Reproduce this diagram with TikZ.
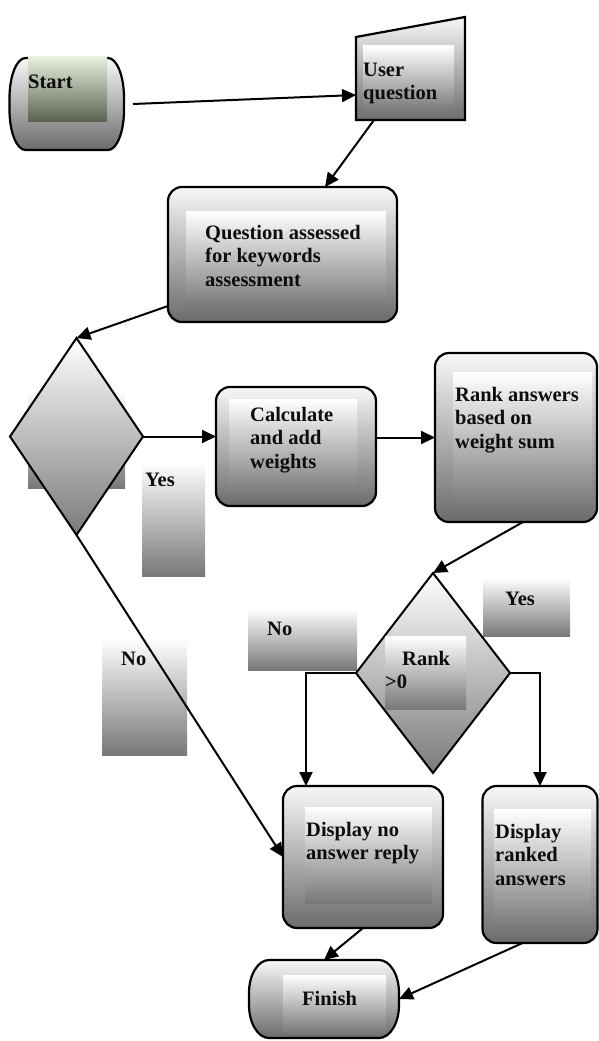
\documentclass[tikz,border=0pt]{standalone}
\usepackage{fontspec}
\setmainfont{Liberation Serif}
\usetikzlibrary{arrows.meta,calc,shapes.geometric}
\definecolor{otop}{gray}{0.97}
\definecolor{obot}{gray}{0.42}
\definecolor{itop}{gray}{1.0}
\definecolor{ibot}{gray}{0.47}
\definecolor{gtop}{RGB}{230,239,220}
\definecolor{gbot}{RGB}{92,99,83}
\begin{document}
\begin{tikzpicture}[x=1pt,y=-1pt,
  box/.style={draw, line width=2.2pt, rounded corners=14pt, top color=otop, bottom color=obot, inner sep=0, outer sep=0},
  shp/.style={draw, line width=2.2pt, top color=otop, bottom color=obot},
  frame/.style={inner sep=0, outer sep=0},
  dia/.style={diamond, draw, line width=2pt, top color=white, bottom color=black!52, inner sep=0, outer sep=0},
  fillrect/.style={top color=itop, bottom color=ibot},
  txt/.style={anchor=north west, inner sep=0, align=left, text=black!95, font=\bfseries\fontsize{20.5}{23.5}\selectfont},
  arr/.style={-{Triangle[length=14pt,width=13pt]}, line width=2pt}]
\useasboundingbox (0,0) rectangle (599,1041);

% Start
\node[frame, minimum width=114.5pt, minimum height=92pt] (start) at (66.75,104) {};
\path[shp] ($(start.north east)+(-16,0)$) arc[start angle=-90,end angle=0,x radius=16,y radius=40]
  -- ($(start.south east)+(0,-40)$) arc[start angle=0,end angle=90,x radius=16,y radius=40]
  -- ($(start.south west)+(16,0)$) arc[start angle=90,end angle=180,x radius=16,y radius=40]
  -- ($(start.north west)+(0,40)$) arc[start angle=180,end angle=270,x radius=16,y radius=40] -- cycle;
\path[top color=gtop, bottom color=gbot] (28,57) rectangle (107,121);
\node[txt] (tstart) at (28,74) {\rule{0pt}{14pt}Start};

% User question
\node[frame, minimum width=109pt, minimum height=103pt] (user) at (410.5,68.5) {};
\path[shp] (user.south west) -- ($(user.north west)+(0,20)$) -- (user.north east) -- (user.south east) -- cycle;
\path[fillrect] (363,46) rectangle (454,111);
\node[txt] (tuser) at (363,62) {\rule{0pt}{14pt}User\\question};
\draw[arr] ([xshift=9pt]start.east) -- ($(user.south west)+(0,-25)$);

% Question assessed
\node[box, minimum width=229pt, minimum height=135pt] (q) at (282.5,254.5) {};
\path[fillrect] (186,211) rectangle (386,308);
\node[txt] (tq) at (205,225) {\rule{0pt}{14pt}Question assessed\\for keywords\\assessment};
\draw[arr] ($(user.south west)+(18,0)$) -- ($(q.north)+(42.5,0)$);

% Decision 1
\path[fillrect] (28,390) rectangle (125,488);
\node[dia, minimum width=133pt, minimum height=197pt] (d1) at (76.5,436.5) {};
\draw[arr] ($(q.south west)+(0,-16)$) -- (d1.north);
\path[fillrect] (142,462) rectangle (205,576);
\node[txt] (tyes1) at (145,472) {\rule{0pt}{14pt}Yes};

% Calculate
\node[box, minimum width=160pt, minimum height=119pt] (calc) at (296,446.5) {};
\path[fillrect] (229,399) rectangle (357,495);
\node[txt] (tcalc) at (250,407) {\rule{0pt}{14pt}Calculate\\and add\\weights};
\draw[arr] (d1.east) -- (d1.east -| calc.west);

% Rank answers
\node[box, minimum width=162pt, minimum height=169pt] (rank) at (516,437.5) {};
\path[fillrect] (453,372) rectangle (592,507);
\node[txt] (trank) at (455,387) {\rule{0pt}{14pt}Rank answers\\based on\\weight sum};
\draw[arr] (calc.east |- rank.west) -- (rank.west);

% Labels near decision 2
\path[fillrect] (483,578) rectangle (570,636);
\node[txt] (tyes2) at (505,591) {\rule{0pt}{14pt}Yes};
\path[fillrect] (248,609) rectangle (357,670);
\node[txt] (tno2) at (267,621) {\rule{0pt}{14pt}No};

% Decision 2
\node[dia, minimum width=154pt, minimum height=200pt] (d2) at (433,673) {};
\path[fillrect] (385,636) rectangle (466,709);
\node[txt] (td2) at (385,651) {\rule{0pt}{14pt}\hspace*{17pt}Rank\\>0};
\draw[arr] ($(rank.south)+(7,0)$) -- (d2.north);

% No label left
\path[fillrect] (102,638) rectangle (187,755);
\node[txt] (tno1) at (121,651) {\rule{0pt}{14pt}No};

% Display boxes
\node[box, minimum width=160pt, minimum height=142pt] (dno) at (363,857) {};
\path[fillrect] (305,807) rectangle (432,903);
\node[txt] (tdno) at (306,822) {\rule{0pt}{14pt}Display no\\answer reply};
\node[box, minimum width=115pt, minimum height=157pt] (drank) at (540,864.5) {};
\path[fillrect] (494,809) rectangle (591,929);
\node[txt] (tdrank) at (495,824) {\rule{0pt}{14pt}Display\\ranked\\answers};

\draw[arr] (d1.south) -- (dno.west);
\draw[arr] (d2.west) -| ($(dno.north west)+(23,0)$);
\draw[arr] (d2.east) -| (drank.north);

% Finish
\node[frame, minimum width=150pt, minimum height=78pt] (finish) at (324,999) {};
\path[shp] ($(finish.north east)+(-20,0)$) arc[start angle=-90,end angle=0,x radius=20,y radius=33]
  -- ($(finish.south east)+(0,-33)$) arc[start angle=0,end angle=90,x radius=20,y radius=33]
  -- ($(finish.south west)+(20,0)$) arc[start angle=90,end angle=180,x radius=20,y radius=33]
  -- ($(finish.north west)+(0,33)$) arc[start angle=180,end angle=270,x radius=20,y radius=33] -- cycle;
\path[fillrect] (283,975) rectangle (386,1033);
\node[txt] (tfinish) at (302,991) {\rule{0pt}{14pt}Finish};
\draw[arr] (dno.south) -- (finish.north);
\draw[arr] ($(drank.south)+(-17.5,0)$) -- (finish.east);
\end{tikzpicture}
\end{document}
